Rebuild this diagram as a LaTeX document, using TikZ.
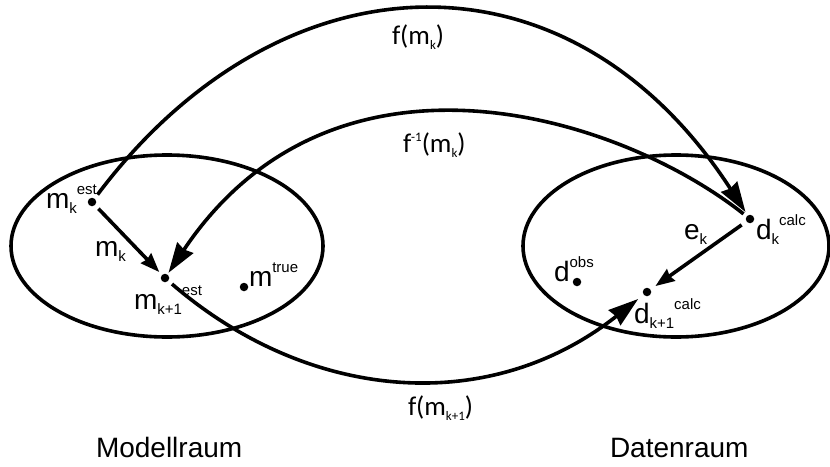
\documentclass[tikz,border=0pt]{standalone}
\usepackage{fontspec}
\setmainfont{Liberation Sans}
\newfontfamily\carl{Carlito}
\usetikzlibrary{arrows.meta,shapes.geometric}
\newcommand\mainsz{\fontsize{28}{28}\selectfont}
\newcommand\capsz{\fontsize{28}{28}\selectfont}
\newcommand\smallsz{\fontsize{15}{15}\selectfont}
\newcommand\lsub[1]{\raisebox{-5pt}{\smallsz #1}}
\newcommand\lsup[1]{\raisebox{14pt}{\smallsz #1}}
\newcommand\csz{\fontsize{27}{27}\selectfont}
\newcommand\csmall{\fontsize{13}{13}\selectfont}
\newcommand\csub[1]{\raisebox{-5pt}{\csmall #1}}
\newcommand\csup[1]{\raisebox{11pt}{\csmall #1}}
\begin{document}
\begin{tikzpicture}[x=1pt,y=-1pt,line width=3.6pt,
  dot/.style={circle,fill=black,inner sep=0pt,minimum size=8.5pt,line width=0pt},
  space/.style={draw,ellipse,inner sep=0pt},
  lbl/.style={anchor=base west,inner sep=0pt,outer sep=0pt,font=\mainsz},
  spacelabel/.style={anchor=base west,inner sep=0pt,outer sep=0pt,font=\capsz},
  clbl/.style={anchor=base west,inner sep=0pt,outer sep=0pt,font=\carl\csz},
  big/.style={-{Stealth[length=30pt,width=19pt,inset=2pt]}},
  small/.style={-{Stealth[length=19pt,width=14pt,inset=1.5pt]}}]
\useasboundingbox (0,0) rectangle (830,466);
\fill[white] (0,0) rectangle (830,466);
% spaces
\node[space,minimum width=312pt,minimum height=182pt] (L) at (167,246) {};
\node[space,minimum width=306pt,minimum height=182pt] (R) at (676,246) {};
% points
\node[dot] (mk) at (92,202) {};
\node[dot] (mk1) at (165,278) {};
\node[dot] (mt) at (244,287) {};
\node[dot] (dk) at (750,219) {};
\node[dot] (dk1) at (647,292) {};
\node[dot] (dobs) at (577,282) {};
% labels
\node[lbl] (tmk) at (46,208) {m\lsub{k}\lsup{est}};
\node[lbl] (tmkarr) at (95,256) {m\lsub{k}};
\node[lbl] (tmk1) at (134,309) {m\lsub{k+1}\lsup{est}};
\node[lbl] (tmt) at (249,286) {m\lsup{true}};
\node[lbl] (tdk) at (756,239) {d\lsub{k}\lsup{calc}};
\node[lbl] (tek) at (684,239) {e\lsub{k}};
\node[lbl] (tdobs) at (554,281) {d\lsup{obs}};
\node[lbl] (tdk1) at (634,323) {d\lsub{k+1}\lsup{calc}};
\node[clbl] (tf) at (392,44) {f(m\csub{k})};
\node[clbl] (tfi) at (403,152) {f\csup{-1}(m\csub{k})};
\node[clbl] (tf1) at (408,415) {f(m\csub{k+1})};
\node[spacelabel] (tml) at (96,457) {Modellraum};
\node[spacelabel] (tdr) at (610,457) {Datenraum};
% connectors
\draw[big,shorten <=5pt,shorten >=4pt] (mk) .. controls (279,-47) and (568,-62) .. (dk);
\draw[big,shorten <=4pt,shorten >=2pt] (dk) .. controls (617,114) and (333,27) .. (mk1);
\draw[big,shorten <=5pt,shorten >=7pt] (mk1) .. controls (309,402) and (489,417) .. (dk1);
\draw[small,shorten <=5pt,shorten >=4pt] (mk) -- (mk1);
\draw[small,shorten <=6pt,shorten >=6pt] (dk) -- (dk1);
\end{tikzpicture}
\end{document}
